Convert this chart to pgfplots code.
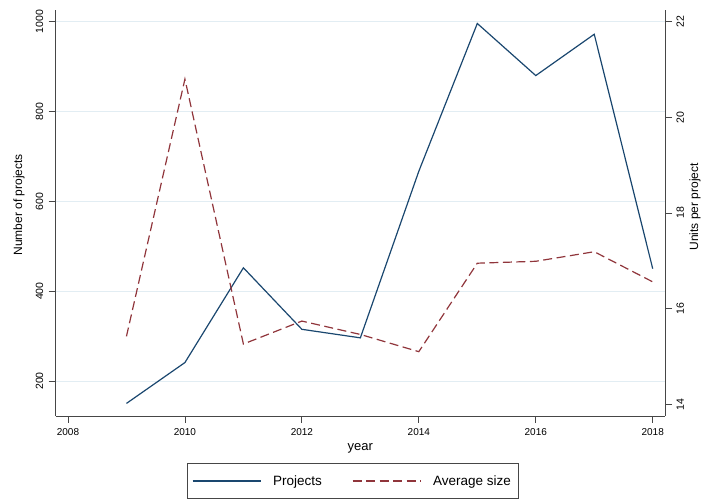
\documentclass[border=0pt]{standalone}
\usepackage{pgfplots}
\pgfplotsset{compat=1.18}
\usepackage{fontspec}
\setmainfont{Liberation Sans}
\definecolor{navyc}{RGB}{26,71,111}
\definecolor{maroonc}{RGB}{144,53,59}
\definecolor{gridc}{RGB}{226,237,243}
\definecolor{axc}{RGB}{70,70,70}
\begin{document}
\begin{tikzpicture}[x=1pt,y=1pt]
\useasboundingbox (0,0) rectangle (702,502);
\pgfplotsset{
  every axis/.append style={
    at={(55.7pt,86pt)}, anchor=south west,
    width=609.3pt, height=406pt, scale only axis,
    xmin=2007.79, xmax=2018.21,
    axis line style={-, line width=0.8pt, color=axc},
    tick style={line width=0.8pt, color=axc},
    tick align=outside, major tick length=7pt,
    /pgf/number format/assume math mode=true,
    /pgf/number format/1000 sep={},
    clip=false,
  }
}
\begin{axis}[
  ymin=122, ymax=1026,
  axis x line*=bottom, axis y line*=left,
  xtick={2008,2010,...,2018},
  ytick={200,400,...,1000},
  ymajorgrids, grid style={color=gridc, line width=0.9pt},
  xticklabel style={font=\fontsize{10}{12}\selectfont, anchor=north, yshift=-2pt},
  yticklabel style={font=\fontsize{10.5}{12}\selectfont, rotate=90, anchor=south, yshift=2pt},
  xlabel={year}, ylabel={Number of projects},
  xlabel style={font=\fontsize{13}{15}\selectfont, at={(axis description cs:0.5,-0.08)}, anchor=center},
  ylabel style={font=\fontsize{12}{14}\selectfont, at={(axis description cs:-0.0602,0.52)}, anchor=center, rotate=0},
]
\addplot[navyc, line width=1.2pt] coordinates {
(2009,150) (2010,241) (2011,452) (2012,315) (2013,296) (2014,667) (2015,996) (2016,880) (2017,972) (2018,450)
};
\end{axis}
\begin{axis}[
  ymin=13.755, ymax=22.245,
  axis x line=none, axis y line*=right,
  xtick=\empty,
  ytick={14,16,...,22},
  yticklabel style={font=\fontsize{10.5}{12}\selectfont, rotate=90, anchor=north, yshift=-1pt},
  ylabel={Units per project},
  ylabel style={font=\fontsize{12}{14}\selectfont, at={(axis description cs:1.0492,0.515)}, anchor=center, rotate=0},
  legend style={at={(axis description cs:0.487,-0.160)}, anchor=center,
    draw=axc, line width=0.6pt, font=\fontsize{13.5}{15}\selectfont,
    legend columns=2, inner xsep=5pt, inner ysep=10pt,
    /tikz/every odd column/.append style={column sep=10pt},
    /tikz/every even column/.append style={column sep=28pt}},
  legend image code/.code={\draw[#1] (0pt,0pt) -- (68pt,0pt);},
]
\addlegendimage{navyc, line width=1.2pt}
\addlegendentry{Projects}
\addplot[maroonc, line width=1.2pt, dash pattern=on 9pt off 4.5pt] coordinates {
(2009,15.42) (2010,20.80) (2011,15.26) (2012,15.74) (2013,15.46) (2014,15.10) (2015,16.95) (2016,16.99) (2017,17.19) (2018,16.56)
};
\addlegendentry{Average size}
\end{axis}
\end{tikzpicture}
\end{document}
